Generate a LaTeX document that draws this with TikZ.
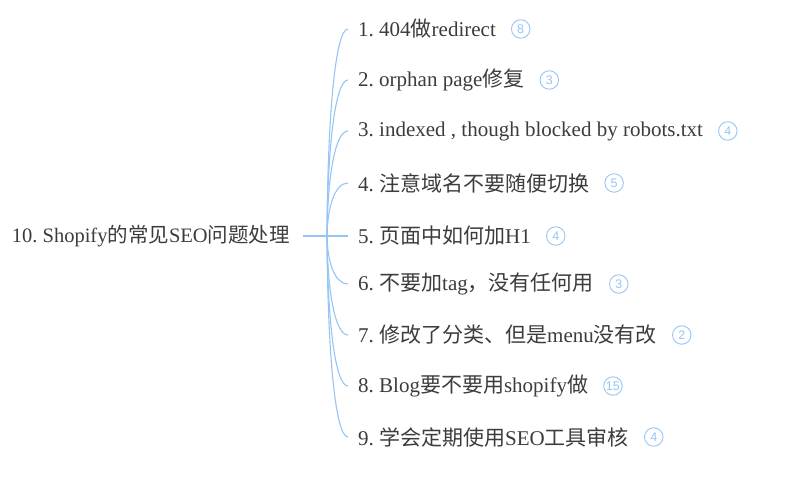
\documentclass[tikz,border=0pt]{standalone}
\usepackage{fontspec}
\setmainfont{Liberation Serif}
\newfontfamily\cjk{Noto Sans CJK SC}
\newfontfamily\badgefont{Liberation Sans}
\newcommand{\zh}[1]{{\cjk #1}}
\usetikzlibrary{positioning}
\definecolor{branchblue}{RGB}{150,196,244}
\definecolor{textgray}{RGB}{60,60,60}
\frenchspacing

\begin{document}
\begin{tikzpicture}[line join=bevel,
  root/.style={anchor=east,inner xsep=13bp,text=textgray,font=\fontsize{20.5bp}{24bp}\selectfont},
  topic/.style={anchor=west,inner xsep=10bp,text=textgray,font=\fontsize{21bp}{24bp}\selectfont},
  badge/.style={circle,draw=branchblue,line width=0.9bp,minimum size=18.5bp,inner sep=0pt,text=branchblue,font=\badgefont\fontsize{12.5bp}{12.5bp}\selectfont},
  branch/.style={draw=branchblue,line width=1.1bp}]
\useasboundingbox (0bp,0bp) rectangle (800bp,500bp);
%%
\node (node_0) at (303bp,264bp) [root] {10. Shopify\zh{的常见}SEO\zh{问题处理}};
\coordinate (hub) at (327bp,264bp);
  \node (node_1) at (348bp,471bp) [topic] {1. 404\zh{做}redirect};
  \node (node_2) at (348bp,420bp) [topic] {2. orphan page\zh{修复}};
  \node (node_3) at (348bp,369bp) [topic] {3. indexed , though blocked by robots.txt};
  \node (node_4) at (348bp,317bp) [topic] {4. \zh{注意域名不要随便切换}};
  \node (node_5) at (348bp,264bp) [topic] {5. \zh{页面中如何加}H1};
  \node (node_6) at (348bp,216bp) [topic] {6. \zh{不要加}tag\zh{，没有任何用}};
  \node (node_7) at (348bp,165bp) [topic] {7. \zh{修改了分类、但是}menu\zh{没有改}};
  \node (node_8) at (348bp,114bp) [topic] {8. Blog\zh{要不要用}shopify\zh{做}};
  \node (node_9) at (348bp,63bp) [topic] {9. \zh{学会定期使用}SEO\zh{工具审核}};
%
  \node (badge_1) [badge, right=5bp of node_1] {8};
  \node (badge_2) [badge, right=5bp of node_2] {3};
  \node (badge_3) [badge, right=5bp of node_3] {4};
  \node (badge_4) [badge, right=5bp of node_4] {5};
  \node (badge_5) [badge, right=5bp of node_5] {4};
  \node (badge_6) [badge, right=5bp of node_6] {3};
  \node (badge_7) [badge, right=5bp of node_7] {2};
  \node (badge_8) [badge, right=5bp of node_8] {15};
  \node (badge_9) [badge, right=5bp of node_9] {4};
%
  \draw [branch] (node_0.east) -- (hub);
  \draw [branch] (hub) ..controls (327.5bp,379.9bp) and (335bp,471bp) .. (node_1.west);
  \draw [branch] (hub) ..controls (327.5bp,351.4bp) and (335bp,420bp) .. (node_2.west);
  \draw [branch] (hub) ..controls (327.5bp,322.8bp) and (335bp,369bp) .. (node_3.west);
  \draw [branch] (hub) ..controls (327.5bp,293.7bp) and (335bp,317bp) .. (node_4.west);
  \draw [branch] (hub) -- (node_5.west);
  \draw [branch] (hub) ..controls (327.5bp,237.1bp) and (335bp,216bp) .. (node_6.west);
  \draw [branch] (hub) ..controls (327.5bp,208.6bp) and (335bp,165bp) .. (node_7.west);
  \draw [branch] (hub) ..controls (327.5bp,180bp) and (335bp,114bp) .. (node_8.west);
  \draw [branch] (hub) ..controls (327.5bp,151.4bp) and (335bp,63bp) .. (node_9.west);
%
\end{tikzpicture}
\end{document}
